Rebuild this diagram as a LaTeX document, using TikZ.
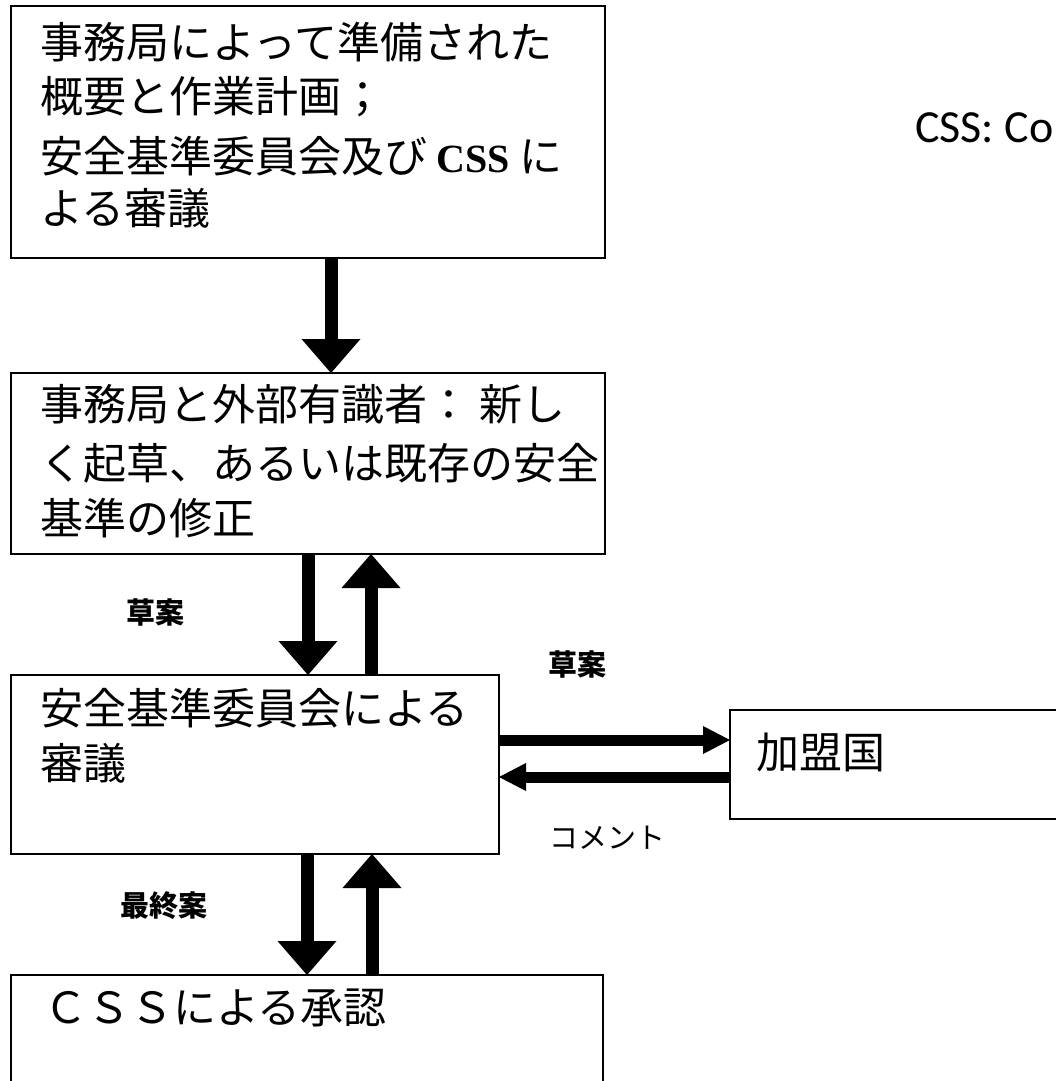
\documentclass[tikz,border=0pt]{standalone}
\usepackage{fontspec}
\setmainfont{Liberation Serif}
\newfontfamily\cjk{Noto Sans CJK JP}
\newfontfamily\calibri{Carlito}
\usetikzlibrary{arrows.meta}
\begin{document}
\begin{tikzpicture}[x=1pt,y=-1pt,
  box/.style={draw=black, line width=2.5pt, rectangle, inner sep=0pt, outer sep=0pt, anchor=north west},
  txt/.style={anchor=west, inner sep=0pt, font=\cjk\fontsize{43}{50}\selectfont},
  lbl/.style={inner sep=0pt, font=\cjk\bfseries\fontsize{29}{34}\selectfont},
  bigarrow/.style={line width=13pt, -{Triangle[width=59pt,length=34pt,line width=0pt]}},
  sidearrow/.style={line width=11pt, -{Triangle[width=28pt,length=27pt,line width=0pt]}},
]
\useasboundingbox (0,0) rectangle (1056,1081);
\clip (0,0) rectangle (1056,1081);
\fill[white] (0,0) rectangle (1056,1081);

% boxes
\node[box, minimum width=594pt, minimum height=252pt] (b1) at (11,6) {};
\node[box, minimum width=594pt, minimum height=181pt] (b2) at (11,373) {};
\node[box, minimum width=488pt, minimum height=179pt] (b3) at (11,675) {};
\node[box, minimum width=420pt, minimum height=109pt] (b4) at (730,710) {};
\node[box, minimum width=592pt, minimum height=150pt] (b5) at (11,975) {};

% box texts
\node[txt] (t1a) at (40,42) {事務局によって準備された};
\node[txt] (t1b) at (40,97) {概要と作業計画；};
\node[txt] (t1c) at (40,156) {安全基準委員会及び {\rmfamily\bfseries\fontsize{40}{48}\selectfont CSS} に};
\node[txt] (t1d) at (40,208) {よる審議};
\node[txt] (t2a) at (40,404) {事務局と外部有識者： 新し};
\node[txt] (t2b) at (40,463) {く起草、あるいは既存の安全};
\node[txt] (t2c) at (40,518) {基準の修正};
\node[txt] (t3a) at (40,708) {安全基準委員会による};
\node[txt] (t3b) at (40,763) {審議};
\node[txt] (t4) at (756,752) {加盟国};
\node[txt] (t5) at (44,1008) {ＣＳＳによる承認};

% labels
\node[lbl] (l1) at (155,612) {草案};
\node[lbl] (l2) at (577,664) {草案};
\node[lbl, font=\cjk\fontsize{29}{34}\selectfont] (l3) at (607,838) {コメント};
\node[lbl] (l4) at (164,906) {最終案};

\node[anchor=base west, inner sep=0pt, font=\calibri\fontsize{46}{55}\selectfont] (note) at (915,142) {CSS: Co};

% arrows
\draw[bigarrow] ([xshift=23pt]b1.south) -- ([xshift=23pt]b2.north);
\draw[bigarrow] (b2.south) -- ([xshift=53pt]b3.north);
\draw[bigarrow] ([xshift=116pt]b3.north) -- ([xshift=63pt]b2.south);
\draw[bigarrow] ([xshift=52pt]b3.south) -- (b5.north);
\draw[bigarrow] ([xshift=65pt]b5.north) -- ([xshift=117pt]b3.south);
\draw[sidearrow] ([yshift=24.5pt]b3.east) -- ([yshift=24.5pt]b4.west);
\draw[sidearrow] ([yshift=-12.5pt]b4.west) -- ([yshift=-12.5pt]b3.east);
\end{tikzpicture}
\end{document}
